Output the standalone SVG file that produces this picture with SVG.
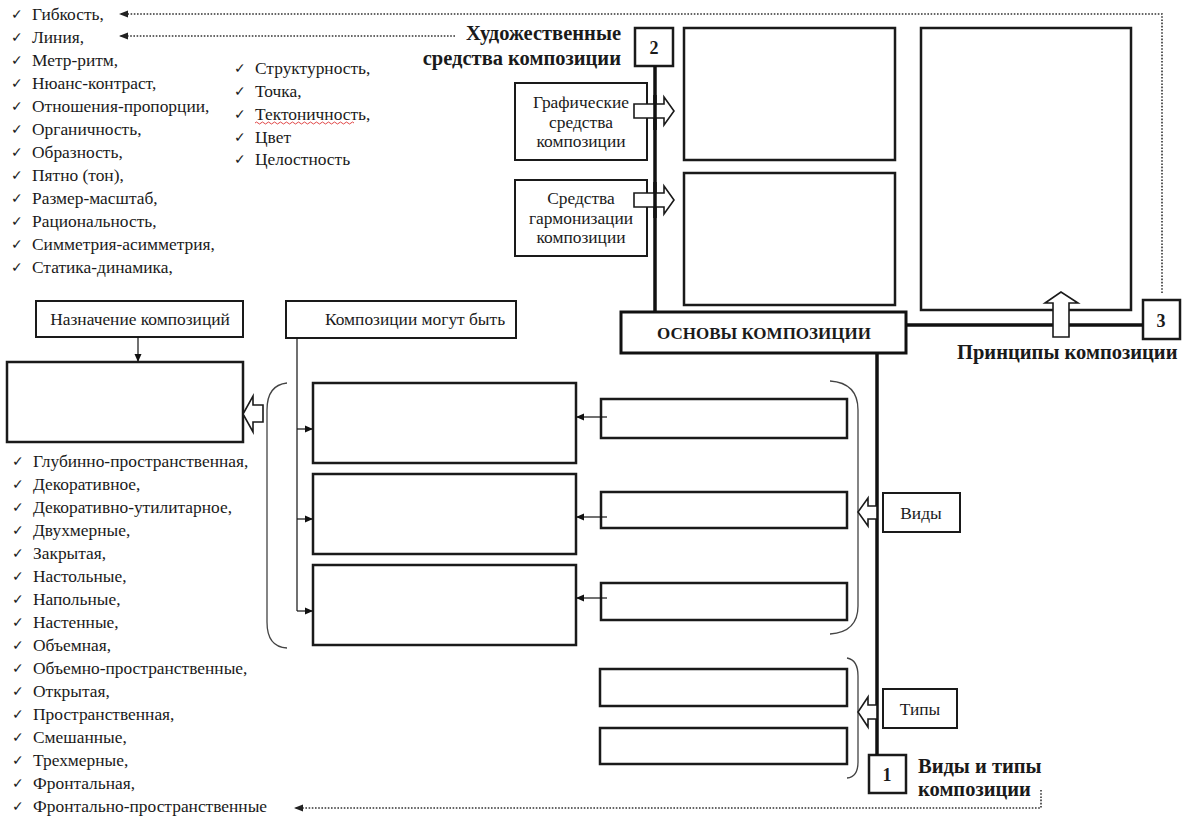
<svg xmlns="http://www.w3.org/2000/svg" width="1190" height="816" viewBox="0 0 1190 816">
<style>
text{font-family:"Times New Roman","Noto Serif","DejaVu Serif","Liberation Serif",Tinos,serif;fill:#1a1a1a}
.li{font-size:17.4px}
.ck{font-family:"DejaVu Sans",sans-serif;font-size:14px}
.bx{fill:#fff;stroke:#1a1a1a;stroke-width:2.5}
.sb{fill:#fff;stroke:#1a1a1a;stroke-width:2}
.thick{stroke:#111;stroke-width:3.5;fill:none}
.thin{stroke:#111;stroke-width:1.2;fill:none}
.dot{stroke:#333;stroke-width:1.6;stroke-dasharray:1.6 1.6;fill:none}
.ha{fill:#fff;stroke:#1a1a1a;stroke-width:1.6}
.b{font-weight:bold;font-size:20.5px}
.n{font-weight:bold;font-size:18px}
.c{text-anchor:middle}
.br{stroke:#444;stroke-width:1.3;fill:none}
</style>
<defs>
<marker id="ah" markerWidth="8" markerHeight="8" refX="7" refY="4" orient="auto" markerUnits="userSpaceOnUse">
<path d="M0,0.5 L8,4 L0,7.5 Z" fill="#111"/>
</marker>
<marker id="dh" markerWidth="9" markerHeight="8" refX="8" refY="4" orient="auto" markerUnits="userSpaceOnUse">
<path d="M0,0.5 L9,4 L0,7.5 Z" fill="#222"/>
</marker>
</defs>

<g id="list-sredstva">
<g class="ck"><text x="11" y="19">✓</text><text x="11" y="42">✓</text><text x="11" y="65">✓</text><text x="11" y="88">✓</text><text x="11" y="111">✓</text><text x="11" y="134">✓</text><text x="11" y="157">✓</text><text x="11" y="180">✓</text><text x="11" y="203">✓</text><text x="11" y="226">✓</text><text x="11" y="249">✓</text><text x="11" y="272">✓</text></g>
<g class="li">
<text x="32" y="20">Гибкость,</text>
<text x="32" y="43">Линия,</text>
<text x="32" y="66">Метр-ритм,</text>
<text x="32" y="89">Нюанс-контраст,</text>
<text x="32" y="112">Отношения-пропорции,</text>
<text x="32" y="135">Органичность,</text>
<text x="32" y="158">Образность,</text>
<text x="32" y="181">Пятно (тон),</text>
<text x="32" y="204">Размер-масштаб,</text>
<text x="32" y="227">Рациональность,</text>
<text x="32" y="250">Симметрия-асимметрия,</text>
<text x="32" y="273">Статика-динамика,</text>
</g>
<g class="ck"><text x="234" y="73">✓</text><text x="234" y="96">✓</text><text x="234" y="119">✓</text><text x="234" y="142">✓</text><text x="234" y="164">✓</text></g>
<g class="li">
<text x="255" y="74">Структурность,</text>
<text x="255" y="97">Точка,</text>
<text x="255" y="120">Тектоничность,</text>
<text x="255" y="143">Цвет</text>
<text x="255" y="165">Целостность</text>
</g>
<path d="M255,123 q1.5,-2 3,0 t3,0 t3,0 t3,0 t3,0 t3,0 t3,0 t3,0 t3,0 t3,0 t3,0 t3,0 t3,0 t3,0 t3,0 t3,0 t3,0 t3,0 t3,0 t3,0 t3,0 t3,0 t3,0 t3,0 t3,0 t3,0 t3,0 t3,0 t3,0 t3,0 t3,0 t3,0 t3,0" fill="none" stroke="#d33" stroke-width="0.9"/>
</g>

<g id="list-vidy">
<g class="ck"><text x="12" y="466">✓</text><text x="12" y="489">✓</text><text x="12" y="512">✓</text><text x="12" y="535">✓</text><text x="12" y="558">✓</text><text x="12" y="581">✓</text><text x="12" y="604">✓</text><text x="12" y="627">✓</text><text x="12" y="650">✓</text><text x="12" y="673">✓</text><text x="12" y="696">✓</text><text x="12" y="719">✓</text><text x="12" y="742">✓</text><text x="12" y="765">✓</text><text x="12" y="788">✓</text><text x="12" y="811">✓</text></g>
<g class="li">
<text x="33" y="467">Глубинно-пространственная,</text>
<text x="33" y="490">Декоративное,</text>
<text x="33" y="513">Декоративно-утилитарное,</text>
<text x="33" y="536">Двухмерные,</text>
<text x="33" y="559">Закрытая,</text>
<text x="33" y="582">Настольные,</text>
<text x="33" y="605">Напольные,</text>
<text x="33" y="628">Настенные,</text>
<text x="33" y="651">Объемная,</text>
<text x="33" y="674">Объемно-пространственные,</text>
<text x="33" y="697">Открытая,</text>
<text x="33" y="720">Пространственная,</text>
<text x="33" y="743">Смешанные,</text>
<text x="33" y="766">Трехмерные,</text>
<text x="33" y="789">Фронтальная,</text>
<text x="33" y="812">Фронтально-пространственные</text>
</g>
</g>

<g id="title-hud">
<text class="b" x="621" y="40" text-anchor="end">Художественные</text>
<text class="b" x="621" y="65" text-anchor="end">средства композиции</text>
</g>
<g id="num2"><rect class="bx" x="635" y="28" width="38" height="38"/><text class="n c" x="654" y="54">2</text></g>
<g id="graf"><rect class="sb" x="515" y="83" width="132" height="77"/>
<text class="li c" x="581" y="108">Графические</text><text class="li c" x="581" y="128">средства</text><text class="li c" x="581" y="147">композиции</text></g>
<g id="garm"><rect class="sb" x="515" y="180" width="132" height="76"/>
<text class="li c" x="581" y="204">Средства</text><text class="li c" x="581" y="224">гармонизации</text><text class="li c" x="581" y="243">композиции</text></g>
<g id="box-graf"><rect class="bx" x="684" y="28" width="211" height="132"/></g>
<g id="box-garm"><rect class="bx" x="684" y="173" width="211" height="132"/></g>
<g id="box-princ"><rect class="bx" x="921" y="28" width="210" height="282"/></g>
<g id="num3"><rect class="bx" x="1143" y="300" width="37" height="39"/><text class="n c" x="1161" y="327">3</text></g>
<g id="title-princ"><text class="b" x="957" y="359">Принципы композиции</text></g>
<g id="osnovy"><rect x="621" y="312" width="285" height="41" fill="#fff" stroke="#111" stroke-width="3"/>
<text class="c" x="764" y="339" style="font-weight:bold;font-size:17px">ОСНОВЫ КОМПОЗИЦИИ</text></g>
<g id="naznach"><rect class="sb" x="36" y="301" width="207" height="36"/><text class="li c" x="140" y="325">Назначение композиций</text></g>
<g id="box-naznach"><rect class="bx" x="7" y="362" width="236" height="80"/></g>
<g id="mogut"><rect class="sb" x="286" y="301" width="230" height="37"/><text class="li" x="325" y="325">Композиции могут быть</text></g>
<g id="m1"><rect class="bx" x="313" y="383" width="263" height="80"/></g>
<g id="m2"><rect class="bx" x="313" y="474" width="263" height="80"/></g>
<g id="m3"><rect class="bx" x="313" y="565" width="263" height="80"/></g>
<g id="v1"><rect class="bx" x="601" y="399" width="246" height="39"/></g>
<g id="v2"><rect class="bx" x="601" y="492" width="246" height="36"/></g>
<g id="v3"><rect class="bx" x="601" y="583" width="246" height="37"/></g>
<g id="t1"><rect class="bx" x="600" y="669" width="247" height="37"/></g>
<g id="t2"><rect class="bx" x="600" y="728" width="247" height="36"/></g>
<g id="vidy"><rect class="sb" x="883" y="493" width="77" height="39"/><text class="li c" x="921" y="519">Виды</text></g>
<g id="tipy"><rect class="sb" x="883" y="689" width="74" height="39"/><text class="li c" x="920" y="715">Типы</text></g>
<g id="num1"><rect class="bx" x="869" y="755" width="37" height="38"/><text class="n c" x="887" y="781">1</text></g>
<g id="title-vidy"><text class="b" x="918" y="773">Виды и типы</text><text class="b" x="918" y="796">композиции</text></g>

<g id="connectors">
<path class="dot" d="M1162,293 L1162,14 L120,14" marker-end="url(#dh)"/>
<path class="dot" d="M455,36 L120,36" marker-end="url(#dh)"/>
<path class="dot" d="M1041,790 L1041,808 L295,808" marker-end="url(#dh)"/>
<path class="thick" d="M655,66 L655,312"/>
<path class="thick" d="M906,325 L1143,325"/>
<path class="thick" d="M877,353 L877,755"/>
<path class="thin" d="M138,337 L138,361" marker-end="url(#ah)"/>
<path class="thin" d="M297,338 L297,611"/>
<path class="thin" d="M297,429 L312,429" marker-end="url(#ah)"/>
<path class="thin" d="M297,519 L312,519" marker-end="url(#ah)"/>
<path class="thin" d="M297,611 L312,611" marker-end="url(#ah)"/>
<path class="thin" d="M607,417 L577,417" marker-end="url(#ah)"/>
<path class="thin" d="M607,517 L577,517" marker-end="url(#ah)"/>
<path class="thin" d="M607,598 L577,598" marker-end="url(#ah)"/>
<path class="br" d="M287,383 Q267,385 267,410 L267,622 Q267,647 287,648"/>
<path class="br" d="M830,381 Q858,383 858,410 L858,606 Q858,632 830,634"/>
<path class="br" d="M847,658 Q858,660 858,676 L858,762 Q858,777 847,778"/>
<path class="ha" d="M634,104 L664,104 L664,97 L674,111 L664,125 L664,118 L634,118 Z"/>
<path class="ha" d="M634,193 L664,193 L664,186 L674,200 L664,214 L664,207 L634,207 Z"/>
<path class="thick" d="M655,95 L655,130 M655,182 L655,218"/>
<path class="ha" d="M1053,337 L1053,303 L1045,303 L1061,292 L1078,303 L1069,303 L1069,337 Z"/>
<path class="ha" d="M263,405 L253,405 L253,396 L243,414 L253,432 L253,422 L263,422 Z"/>
<path class="ha" d="M877,506 L868,506 L868,498 L858,512 L868,526 L868,519 L877,519 Z"/>
<path class="ha" d="M877,705 L868,705 L868,697 L858,712 L868,727 L868,719 L877,719 Z"/>
</g>
</svg>
